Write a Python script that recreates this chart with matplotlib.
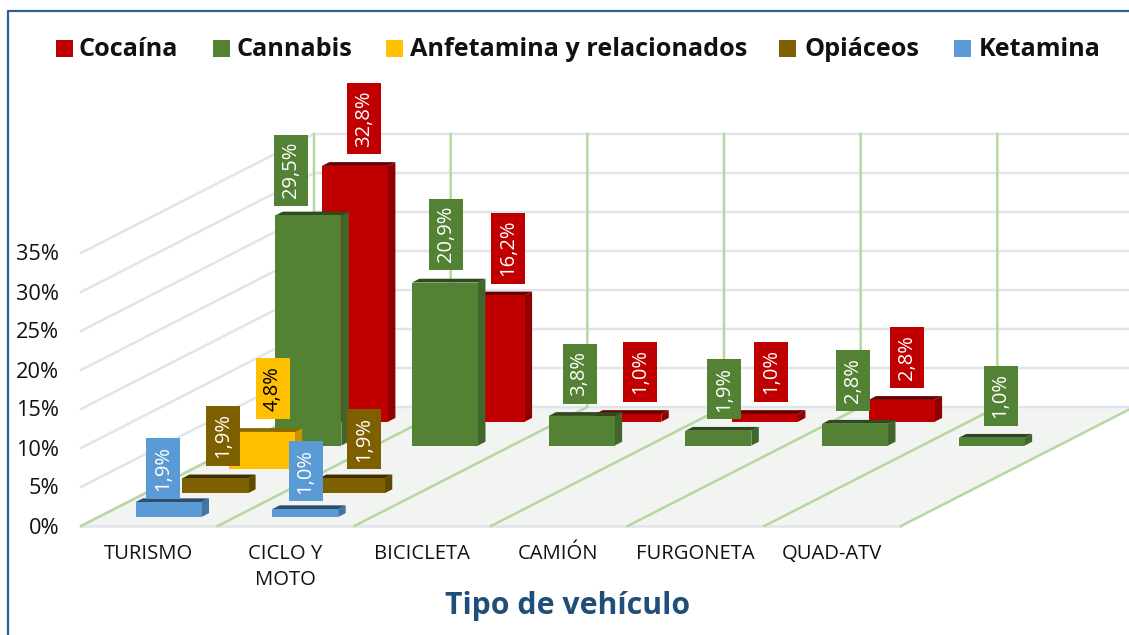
"""Pseudo 3D bar chart of positive drug tests by vehicle type."""

import matplotlib
matplotlib.use("Agg")
import matplotlib.pyplot as plt
from matplotlib.patches import Polygon, Rectangle

plt.rcParams["font.family"] = ["Open Sans", "DejaVu Sans"]

categories = ["TURISMO", "CICLO Y\nMOTO", "BICICLETA", "CAMIÓN", "FURGONETA", "QUAD-ATV"]
series_names = ["Cocaína", "Cannabis", "Anfetamina y relacionados", "Opiáceos", "Ketamina"]

cocaina = [32.8, 16.2, 1.0, 1.0, 2.8, None]
cannabis = [29.5, 20.9, 3.8, 1.9, 2.8, 1.0]
anfetamina = [4.8, None, None, None, None, None]
opiaceos = [1.9, 1.9, None, None, None, None]
ketamina = [1.9, 1.0, None, None, None, None]
series_values = [cocaina, cannabis, anfetamina, opiaceos, ketamina]

y_ticks = [0, 5, 10, 15, 20, 25, 30, 35]

# colours per series: front, side, top
front_colors = ["#C00000", "#548235", "#FFC000", "#7F6000", "#5B9BD5"]
side_colors = ["#900000", "#41652A", "#C79500", "#5F4800", "#44749F"]
top_colors = ["#6A0000", "#2F4A1E", "#8C6900", "#3F3000", "#2E4E6B"]
label_text_colors = ["white", "white", "black", "white", "white"]

# projection of the chart box, in pixels
X0, Y0 = 81, 526
CAT_W = 136.67
DEPTH_X, DEPTH_Y = 233, 119
PX_PER_UNIT = 7.8
SLOTS = 5
BAR_W = 66
BAR_D = 0.16
BAR_START = 0.38
BAR_SHIFT = 1.5

GRID = "#E1E4EA"
DEPTH_LINE = "#B5D7A0"
FLOOR = "#F2F4F1"
FRAME = "#2C6093"

# label box centres, hand placed in the original chart
label_centers = {
    (0, 0): (364, 118.5), (0, 1): (508, 248), (0, 2): (640, 372), (0, 3): (771, 372), (0, 4): (907, 357.5),
    (1, 0): (290.5, 170), (1, 1): (446, 234), (1, 2): (579.5, 374), (1, 3): (724, 389), (1, 4): (853, 380.5), (1, 5): (1000.5, 396),
    (2, 0): (273, 388.5),
    (3, 0): (223, 436), (3, 1): (364, 439),
    (4, 0): (163, 468.5), (4, 1): (305.5, 471),
}

legend_pos = [(56, 79), (213, 236), (386, 410), (779, 804), (954, 979)]


def project(cat, depth, value=0):
    """Map category position, depth slot and value to pixel coordinates."""
    x = X0 + cat * CAT_W + depth / SLOTS * DEPTH_X
    y = Y0 - depth / SLOTS * DEPTH_Y - value * PX_PER_UNIT
    return x, y


fig = plt.figure(figsize=(11.29, 6.35), dpi=100)
ax = fig.add_axes([0, 0, 1, 1])
ax.set_xlim(0, 1129)
ax.set_ylim(635, 0)
ax.axis("off")

# frame
ax.plot([8, 8, 1129], [635, 11, 11], color=FRAME, lw=1.6, zorder=1)

# floor
n_cat = len(categories)
ax.add_patch(Polygon([project(0, 0), project(n_cat, 0), project(n_cat, SLOTS), project(0, SLOTS)],
                     facecolor=FLOOR, edgecolor="none", zorder=1))

# walls
for tick in y_ticks:
    xa, ya = project(0, 0, tick)
    xb, yb = project(0, SLOTS, tick)
    xc, yc = project(n_cat, SLOTS, tick)
    ax.plot([xa, xb, xc], [ya, yb, yc], color=GRID, lw=1.8, zorder=2, solid_joinstyle="miter")
    ax.text(59, ya + 2, f"{tick}%", ha="right", va="center", fontsize=15.7, color="#111111")
ax.plot(*zip(project(0, 0), project(n_cat, 0)), color=GRID, lw=1.8, zorder=2)

for k in range(n_cat + 1):
    xa, ya = project(k, 0)
    xb, yb = project(k, SLOTS)
    xc, yc = project(k, SLOTS, y_ticks[-1])
    ax.plot([xa, xb, xc], [ya, yb, yc], color=DEPTH_LINE, lw=1.8, zorder=3, solid_joinstyle="miter")

# bars, back series first
for s in range(len(series_values)):
    depth = SLOTS - 1 - s + BAR_START
    values = series_values[s]
    for c in range(n_cat - 1, -1, -1):
        v = values[c]
        if v is None:
            continue
        xm, ybase = project(c + 0.5, depth)
        xm += BAR_SHIFT
        xl, xr = xm - BAR_W / 2, xm + BAR_W / 2
        ytop = ybase - v * PX_PER_UNIT
        dx = BAR_D * DEPTH_X / SLOTS
        dy = BAR_D * DEPTH_Y / SLOTS
        z = 10 + s * 10
        ax.add_patch(Polygon([(xr, ybase), (xr + dx, ybase - dy), (xr + dx, ytop - dy), (xr, ytop)],
                             facecolor=side_colors[s], edgecolor="none", zorder=z))
        ax.add_patch(Polygon([(xl, ytop), (xr, ytop), (xr + dx, ytop - dy), (xl + dx, ytop - dy)],
                             facecolor=top_colors[s], edgecolor="none", zorder=z))
        ax.add_patch(Rectangle((xl, ytop), BAR_W, v * PX_PER_UNIT,
                               facecolor=front_colors[s], edgecolor="none", zorder=z + 1))

# data labels
for (s, c), (cx, cy) in label_centers.items():
    txt = f"{series_values[s][c]:.1f}%".replace(".", ",")
    h = 71 if series_values[s][c] >= 10 else 60.5
    ax.add_patch(Rectangle((cx - 17, cy - h / 2), 34, h, facecolor=front_colors[s], edgecolor="none", zorder=100))
    ax.text(cx, cy, txt, rotation=90, ha="center", va="center", fontsize=14.5,
            color=label_text_colors[s], zorder=101)

# category labels
for c, name in enumerate(categories):
    xm, _ = project(c + 0.5, 0)
    ax.text(xm - 1, 544, name, ha="center", va="top", fontsize=14.6, color="#111111", linespacing=1.4)

ax.text(568, 606, "Tipo de vehículo", ha="center", va="center", fontsize=21.8, fontweight="bold", color="#1F4E79")

# legend
for name, color, (xs, xt) in zip(series_names, front_colors, legend_pos):
    ax.add_patch(Rectangle((xs, 40), 17, 17, facecolor=color, edgecolor="none"))
    ax.text(xt, 49.5, name, ha="left", va="center", fontsize=18.2, fontweight="bold", color="#111111")

fig.savefig("out.png", dpi=100)
